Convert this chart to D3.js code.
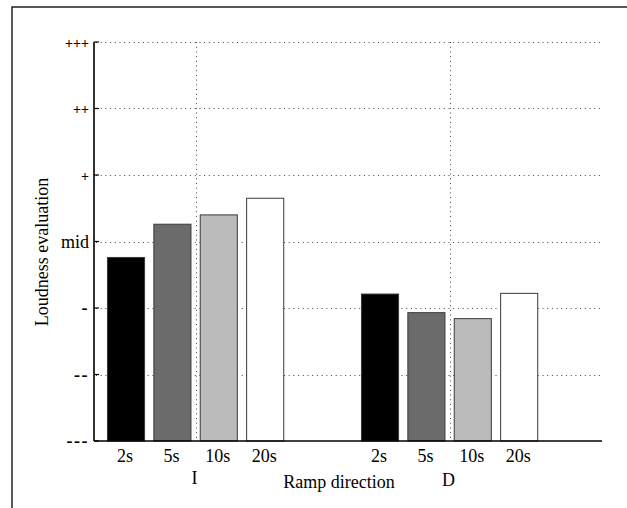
<!DOCTYPE html>
<html>
<head>
<meta charset="utf-8">
<script src="https://cdn.jsdelivr.net/npm/d3@7"></script>
<style>
  html, body {margin: 0; padding: 0; background: #fff;}
  svg {display: block; font-family: 'Liberation Serif', 'Times New Roman', serif;}
</style>
</head>
<body>
<script>
var groups = ['I', 'D']
var durations = ['2s', '5s', '10s', '20s']
// loudness ratings on a 1 (---) .. 7 (+++) scale
var valuesI = [3.76, 4.26, 4.40, 4.65]
var valuesD = [3.21, 2.93, 2.84, 3.22]
var tickLabels = ['---', '--', '-', 'mid', '+', '++', '+++']
var tickValues = [1, 2, 3, 4, 5, 6, 7]
var barColors = ['#000000', '#6b6b6b', '#bbbbbb', '#ffffff']

var width = 627, height = 508
var svg = d3.select('body').append('svg')
  .attr('width', width)
  .attr('height', height)

// outer figure frame (cropped at right and bottom)
svg.append('path')
  .attr('d', 'M12,508 V7 H627')
  .attr('fill', 'none')
  .attr('stroke', '#222')
  .attr('stroke-width', 1.5)

var x = d3.scaleLinear().domain([0.6, 2.6]).range([94, 602])
var y = d3.scaleLinear().domain([1, 7]).range([441, 42])
var sub = d3.scaleBand().domain(durations).range([-0.347, 0.347]).paddingInner(0.2)

var data = []
groups.forEach((g, gi) => {
  var vals = gi == 0 ? valuesI : valuesD
  durations.forEach((dur, i) => data.push({group: g, gx: gi + 1, dur, i, v: vals[i]}))
})

var gridSel = svg.append('g')
  .attr('stroke', '#444')
  .attr('stroke-width', 1)
  .attr('stroke-dasharray', '1,3.7')

gridSel.selectAll('line.h').data(tickValues.slice(1))
  .join('line')
  .attr('x1', x.range()[0] + 2).attr('x2', x.range()[1])
  .attr('y1', d => Math.round(y(d)) + 0.5).attr('y2', d => Math.round(y(d)) + 0.5)

gridSel.selectAll('line.v').data([1, 2])
  .join('line')
  .attr('x1', d => Math.round(x(d)) + 0.5).attr('x2', d => Math.round(x(d)) + 0.5)
  .attr('y1', y(7)).attr('y2', y(1))

svg.append('g').selectAll('rect').data(data)
  .join('rect')
  .attr('x', d => x(d.gx + sub(d.dur)))
  .attr('width', d => x(d.gx + sub.bandwidth()) - x(d.gx))
  .attr('y', d => y(d.v))
  .attr('height', d => y(1) - y(d.v))
  .attr('fill', d => barColors[d.i])
  .attr('stroke', '#3a3a3a')
  .attr('stroke-width', 1)

// baseline and y axis
svg.append('line')
  .attr('x1', x.range()[0]).attr('x2', x.range()[1])
  .attr('y1', y(1)).attr('y2', y(1))
  .attr('stroke', '#000').attr('stroke-width', 1.6)

svg.append('line')
  .attr('x1', x.range()[0]).attr('x2', x.range()[0])
  .attr('y1', y(7)).attr('y2', y(1))
  .attr('stroke', '#000').attr('stroke-width', 1.6)

svg.append('g').selectAll('line').data(tickValues)
  .join('line')
  .attr('x1', x.range()[0]).attr('x2', x.range()[0] + 5)
  .attr('y1', d => y(d)).attr('y2', d => y(d))
  .attr('stroke', '#000').attr('stroke-width', 1.2)

// the +/- marks are drawn heavier and tighter than the word labels
svg.append('g').selectAll('text').data(tickValues)
  .join('text')
  .attr('x', 89)
  .attr('y', d => y(d))
  .attr('dy', (d, i) => tickLabels[i][0] == '+' ? '0.4em' : '0.34em')
  .attr('text-anchor', 'end')
  .attr('font-size', (d, i) => tickLabels[i][0] == '+' ? 14 : 18)
  .attr('font-weight', (d, i) => tickLabels[i] == 'mid' ? 'normal' : 'bold')
  .attr('letter-spacing', (d, i) => tickLabels[i][0] == '-' ? 1.5 : 0)
  .text((d, i) => tickLabels[i])

// duration labels under each bar
svg.append('g').selectAll('text').data(data)
  .join('text')
  .attr('x', d => x(d.gx + sub(d.dur) + sub.bandwidth()/2) - 1)
  .attr('y', 462)
  .attr('text-anchor', 'middle')
  .attr('font-size', 18)
  .text(d => d.dur)

svg.append('g').selectAll('text').data(groups)
  .join('text')
  .attr('x', (d, i) => x(i + 1) - 1)
  .attr('y', (d, i) => 484 + i*2)
  .attr('text-anchor', 'middle')
  .attr('font-size', 18)
  .text(d => d)

svg.append('text')
  .attr('x', 339)
  .attr('y', 488)
  .attr('text-anchor', 'middle')
  .attr('font-size', 18)
  .text('Ramp direction')

svg.append('text')
  .attr('transform', 'translate(48,252) rotate(-90)')
  .attr('text-anchor', 'middle')
  .attr('font-size', 18)
  .text('Loudness evaluation')
</script>
</body>
</html>
